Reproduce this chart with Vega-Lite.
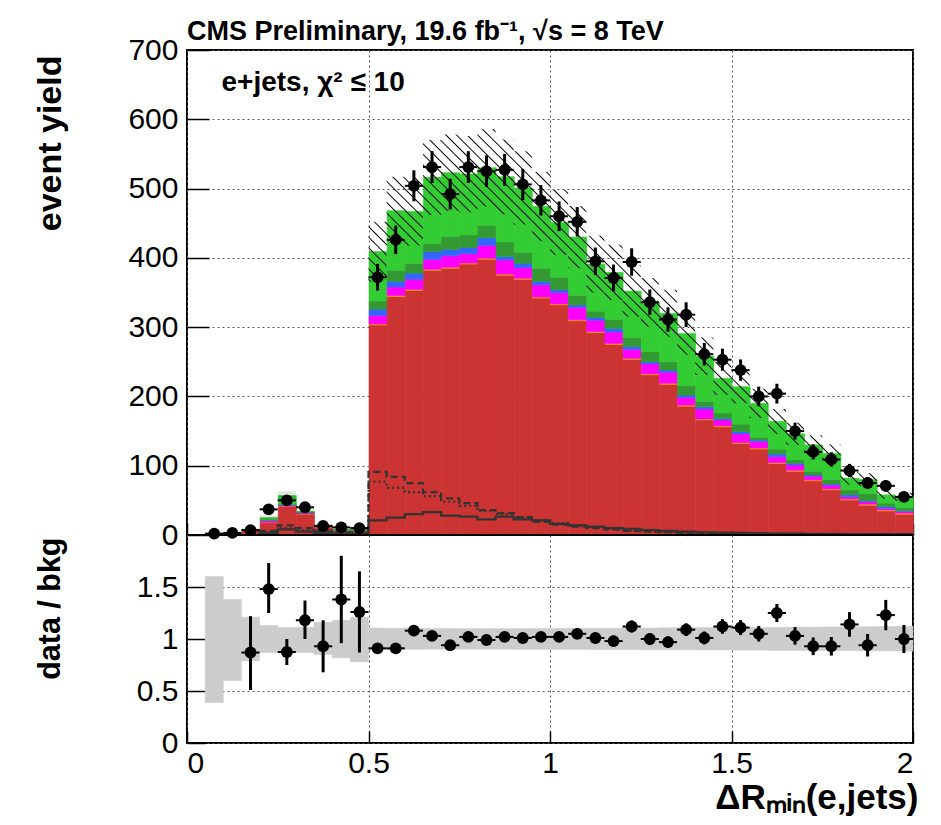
{
  "$schema": "https://vega.github.io/schema/vega-lite/v6.json",
  "autosize": {"type": "none"},
  "padding": {"left": 187, "top": 50, "right": 754, "bottom": 775},
  "background": "white",
  "config": {
    "font": "Liberation Sans",
    "view": {"stroke": "black", "strokeWidth": 2},
    "axis": {
      "domain": false,
      "grid": true,
      "gridColor": "#555555",
      "gridDash": [2, 3],
      "gridWidth": 1,
      "tickColor": "black",
      "tickWidth": 1.5,
      "labelFont": "Liberation Sans",
      "labelFontSize": 30,
      "labelColor": "black",
      "titleFont": "Liberation Sans",
      "titleColor": "black",
      "titleFontWeight": "bold"
    }
  },
  "datasets": {
    "hist": [
      {"lo":0.05,"hi":0.1,"c1red":1,"c2orange":0,"c3mag":0,"c4blue":0,"c5dkg":0,"c6grn":0,"ulo":0.4,"uhi":1.6},
      {"lo":0.1,"hi":0.15,"c1red":2,"c2orange":0,"c3mag":0,"c4blue":0,"c5dkg":0,"c6grn":0,"ulo":1.2,"uhi":2.8},
      {"lo":0.15,"hi":0.2,"c1red":7,"c2orange":0,"c3mag":0,"c4blue":0,"c5dkg":0,"c6grn":1,"ulo":6.3,"uhi":9.7},
      {"lo":0.2,"hi":0.25,"c1red":17.8,"c2orange":0.5,"c3mag":2.4,"c4blue":0.3,"c5dkg":1,"c6grn":3,"ulo":21.8,"uhi":28.3},
      {"lo":0.25,"hi":0.3,"c1red":41,"c2orange":0.5,"c3mag":1.5,"c4blue":0.5,"c5dkg":1,"c6grn":12.5,"ulo":49.6,"uhi":63.3},
      {"lo":0.3,"hi":0.35,"c1red":30,"c2orange":0.5,"c3mag":1.5,"c4blue":0.5,"c5dkg":0.5,"c6grn":1,"ulo":29.6,"uhi":37.7},
      {"lo":0.35,"hi":0.4,"c1red":12,"c2orange":0.3,"c3mag":0.5,"c4blue":0.5,"c5dkg":0.5,"c6grn":0.2,"ulo":11.9,"uhi":16.2},
      {"lo":0.4,"hi":0.45,"c1red":7,"c2orange":0,"c3mag":0,"c4blue":0,"c5dkg":0,"c6grn":1,"ulo":6.6,"uhi":9.4},
      {"lo":0.45,"hi":0.5,"c1red":7,"c2orange":0,"c3mag":0,"c4blue":0,"c5dkg":0,"c6grn":1,"ulo":6.2,"uhi":9.7},
      {"lo":0.5,"hi":0.55,"c1red":303,"c2orange":1.5,"c3mag":12.5,"c4blue":9,"c5dkg":12,"c6grn":71,"ulo":366,"uhi":452},
      {"lo":0.55,"hi":0.6,"c1red":344,"c2orange":1.5,"c3mag":12.5,"c4blue":8,"c5dkg":16,"c6grn":86,"ulo":419,"uhi":517},
      {"lo":0.6,"hi":0.65,"c1red":353,"c2orange":1.5,"c3mag":14.5,"c4blue":9,"c5dkg":14,"c6grn":75,"ulo":418,"uhi":516},
      {"lo":0.65,"hi":0.7,"c1red":382,"c2orange":1.5,"c3mag":14.5,"c4blue":11,"c5dkg":12,"c6grn":95,"ulo":462,"uhi":570},
      {"lo":0.7,"hi":0.75,"c1red":385,"c2orange":1.5,"c3mag":16.5,"c4blue":9,"c5dkg":19,"c6grn":92,"ulo":468,"uhi":578},
      {"lo":0.75,"hi":0.8,"c1red":391,"c2orange":1.5,"c3mag":13.5,"c4blue":9,"c5dkg":18,"c6grn":88,"ulo":466,"uhi":576},
      {"lo":0.8,"hi":0.85,"c1red":398,"c2orange":1.5,"c3mag":18.5,"c4blue":11,"c5dkg":18,"c6grn":83,"ulo":474,"uhi":586},
      {"lo":0.85,"hi":0.9,"c1red":375,"c2orange":1.5,"c3mag":20.5,"c4blue":5,"c5dkg":21,"c6grn":94,"ulo":463,"uhi":571},
      {"lo":0.9,"hi":0.95,"c1red":369,"c2orange":1.5,"c3mag":15.5,"c4blue":6,"c5dkg":16,"c6grn":93,"ulo":448,"uhi":554},
      {"lo":0.95,"hi":1.0,"c1red":342,"c2orange":1.5,"c3mag":17.5,"c4blue":5,"c5dkg":19,"c6grn":89,"ulo":424,"uhi":524},
      {"lo":1.0,"hi":1.05,"c1red":332,"c2orange":1.5,"c3mag":16.5,"c4blue":4,"c5dkg":18,"c6grn":79,"ulo":404,"uhi":498},
      {"lo":1.05,"hi":1.1,"c1red":309,"c2orange":1.5,"c3mag":18,"c4blue":3.5,"c5dkg":14,"c6grn":84,"ulo":385,"uhi":475},
      {"lo":1.1,"hi":1.15,"c1red":292,"c2orange":1.5,"c3mag":16.5,"c4blue":4,"c5dkg":9,"c6grn":68,"ulo":350,"uhi":432},
      {"lo":1.15,"hi":1.2,"c1red":275,"c2orange":1.5,"c3mag":16.5,"c4blue":5,"c5dkg":13,"c6grn":68,"ulo":339,"uhi":419},
      {"lo":1.2,"hi":1.25,"c1red":253.5,"c2orange":1.5,"c3mag":13,"c4blue":4,"c5dkg":13,"c6grn":67,"ulo":315,"uhi":389},
      {"lo":1.25,"hi":1.3,"c1red":231,"c2orange":1.5,"c3mag":14.5,"c4blue":3,"c5dkg":14.5,"c6grn":71.5,"ulo":301,"uhi":371},
      {"lo":1.3,"hi":1.35,"c1red":217.5,"c2orange":1.5,"c3mag":16,"c4blue":3,"c5dkg":12,"c6grn":70,"ulo":286,"uhi":354},
      {"lo":1.35,"hi":1.4,"c1red":186,"c2orange":1.5,"c3mag":11,"c4blue":3.5,"c5dkg":14,"c6grn":75,"ulo":260,"uhi":322},
      {"lo":1.4,"hi":1.45,"c1red":166,"c2orange":1.5,"c3mag":14.5,"c4blue":3,"c5dkg":8,"c6grn":65,"ulo":231,"uhi":285},
      {"lo":1.45,"hi":1.5,"c1red":156,"c2orange":1.5,"c3mag":8.5,"c4blue":2,"c5dkg":8,"c6grn":50,"ulo":202,"uhi":250},
      {"lo":1.5,"hi":1.55,"c1red":132,"c2orange":1.5,"c3mag":12.5,"c4blue":3,"c5dkg":11,"c6grn":54,"ulo":190,"uhi":238},
      {"lo":1.55,"hi":1.6,"c1red":124,"c2orange":1.5,"c3mag":9.5,"c4blue":2,"c5dkg":4,"c6grn":49,"ulo":169,"uhi":211},
      {"lo":1.6,"hi":1.65,"c1red":103,"c2orange":1.5,"c3mag":8.5,"c4blue":4,"c5dkg":7,"c6grn":40,"ulo":146,"uhi":182},
      {"lo":1.65,"hi":1.7,"c1red":92,"c2orange":1.5,"c3mag":7.5,"c4blue":2.5,"c5dkg":5.5,"c6grn":37,"ulo":130,"uhi":162},
      {"lo":1.7,"hi":1.75,"c1red":78,"c2orange":1.5,"c3mag":5.5,"c4blue":1.6,"c5dkg":5.4,"c6grn":38,"ulo":116,"uhi":144},
      {"lo":1.75,"hi":1.8,"c1red":65,"c2orange":1.5,"c3mag":5.5,"c4blue":1.6,"c5dkg":6.4,"c6grn":38,"ulo":105,"uhi":131},
      {"lo":1.8,"hi":1.85,"c1red":50.5,"c2orange":1.5,"c3mag":3,"c4blue":3,"c5dkg":7,"c6grn":17,"ulo":73,"uhi":91},
      {"lo":1.85,"hi":1.9,"c1red":43,"c2orange":1.5,"c3mag":3.5,"c4blue":1.5,"c5dkg":10.5,"c6grn":20,"ulo":71,"uhi":89},
      {"lo":1.9,"hi":1.95,"c1red":34.6,"c2orange":1.5,"c3mag":2.4,"c4blue":2.5,"c5dkg":5,"c6grn":12,"ulo":52,"uhi":64},
      {"lo":1.95,"hi":2.0,"c1red":30,"c2orange":1.5,"c3mag":2.2,"c4blue":1.3,"c5dkg":4.4,"c6grn":15.6,"ulo":49,"uhi":61}
    ],
    "unc": [
      {"x":0.5,"ulo":366,"uhi":452},{"x":0.55,"ulo":419,"uhi":517},{"x":0.6,"ulo":418,"uhi":516},{"x":0.65,"ulo":462,"uhi":570},
      {"x":0.7,"ulo":468,"uhi":578},{"x":0.75,"ulo":466,"uhi":576},{"x":0.8,"ulo":474,"uhi":586},{"x":0.85,"ulo":463,"uhi":571},
      {"x":0.9,"ulo":448,"uhi":554},{"x":0.95,"ulo":424,"uhi":524},{"x":1.0,"ulo":404,"uhi":498},{"x":1.05,"ulo":385,"uhi":475},
      {"x":1.1,"ulo":350,"uhi":432},{"x":1.15,"ulo":339,"uhi":419},{"x":1.2,"ulo":315,"uhi":389},{"x":1.25,"ulo":301,"uhi":371},
      {"x":1.3,"ulo":286,"uhi":354},{"x":1.35,"ulo":260,"uhi":322},{"x":1.4,"ulo":231,"uhi":285},{"x":1.45,"ulo":202,"uhi":250},
      {"x":1.5,"ulo":190,"uhi":238},{"x":1.55,"ulo":169,"uhi":211},{"x":1.6,"ulo":146,"uhi":182},{"x":1.65,"ulo":130,"uhi":162},
      {"x":1.7,"ulo":116,"uhi":144},{"x":1.75,"ulo":105,"uhi":131},{"x":1.8,"ulo":73,"uhi":91},{"x":1.85,"ulo":71,"uhi":89},
      {"x":1.9,"ulo":52,"uhi":64},{"x":1.95,"ulo":49,"uhi":61},{"x":2.0,"ulo":49,"uhi":61}
    ],
    "pts": [
      {"x":0.075,"lo":0.05,"hi":0.1,"n":2,"nlo":0.6,"nhi":3.4},
      {"x":0.125,"lo":0.1,"hi":0.15,"n":3,"nlo":1.3,"nhi":4.7},
      {"x":0.175,"lo":0.15,"hi":0.2,"n":7,"nlo":4.4,"nhi":9.6},
      {"x":0.225,"lo":0.2,"hi":0.25,"n":37,"nlo":30.9,"nhi":43.1},
      {"x":0.275,"lo":0.25,"hi":0.3,"n":50,"nlo":42.9,"nhi":57.1},
      {"x":0.325,"lo":0.3,"hi":0.35,"n":40,"nlo":33.7,"nhi":46.3},
      {"x":0.375,"lo":0.35,"hi":0.4,"n":13,"nlo":9.4,"nhi":16.6},
      {"x":0.425,"lo":0.4,"hi":0.45,"n":11,"nlo":7.7,"nhi":14.3},
      {"x":0.475,"lo":0.45,"hi":0.5,"n":10,"nlo":6.8,"nhi":13.2},
      {"x":0.525,"lo":0.5,"hi":0.55,"n":372,"nlo":352.7,"nhi":391.3},
      {"x":0.575,"lo":0.55,"hi":0.6,"n":426,"nlo":405.4,"nhi":446.6},
      {"x":0.625,"lo":0.6,"hi":0.65,"n":504,"nlo":481.6,"nhi":526.4},
      {"x":0.675,"lo":0.65,"hi":0.7,"n":531,"nlo":508,"nhi":554},
      {"x":0.725,"lo":0.7,"hi":0.75,"n":492,"nlo":469.8,"nhi":514.2},
      {"x":0.775,"lo":0.75,"hi":0.8,"n":531,"nlo":508,"nhi":554},
      {"x":0.825,"lo":0.8,"hi":0.85,"n":525,"nlo":502.1,"nhi":547.9},
      {"x":0.875,"lo":0.85,"hi":0.9,"n":527,"nlo":504,"nhi":550},
      {"x":0.925,"lo":0.9,"hi":0.95,"n":506,"nlo":483.5,"nhi":528.5},
      {"x":0.975,"lo":0.95,"hi":1.0,"n":483,"nlo":461,"nhi":505},
      {"x":1.025,"lo":1.0,"hi":1.05,"n":460,"nlo":438.6,"nhi":481.4},
      {"x":1.075,"lo":1.05,"hi":1.1,"n":452,"nlo":430.7,"nhi":473.3},
      {"x":1.125,"lo":1.1,"hi":1.15,"n":395,"nlo":375.1,"nhi":414.9},
      {"x":1.175,"lo":1.15,"hi":1.2,"n":371,"nlo":351.7,"nhi":390.3},
      {"x":1.225,"lo":1.2,"hi":1.25,"n":394,"nlo":374.2,"nhi":413.8},
      {"x":1.275,"lo":1.25,"hi":1.3,"n":336,"nlo":317.7,"nhi":354.3},
      {"x":1.325,"lo":1.3,"hi":1.35,"n":311,"nlo":293.4,"nhi":328.6},
      {"x":1.375,"lo":1.35,"hi":1.4,"n":318,"nlo":300.2,"nhi":335.8},
      {"x":1.425,"lo":1.4,"hi":1.45,"n":261,"nlo":244.8,"nhi":277.2},
      {"x":1.475,"lo":1.45,"hi":1.5,"n":253,"nlo":237.1,"nhi":268.9},
      {"x":1.525,"lo":1.5,"hi":1.55,"n":238,"nlo":222.6,"nhi":253.4},
      {"x":1.575,"lo":1.55,"hi":1.6,"n":200,"nlo":185.9,"nhi":214.1},
      {"x":1.625,"lo":1.6,"hi":1.65,"n":204,"nlo":189.7,"nhi":218.3},
      {"x":1.675,"lo":1.65,"hi":1.7,"n":150,"nlo":137.8,"nhi":162.2},
      {"x":1.725,"lo":1.7,"hi":1.75,"n":120,"nlo":109,"nhi":131},
      {"x":1.775,"lo":1.75,"hi":1.8,"n":109,"nlo":98.6,"nhi":119.4},
      {"x":1.825,"lo":1.8,"hi":1.85,"n":93,"nlo":83.4,"nhi":102.6},
      {"x":1.875,"lo":1.85,"hi":1.9,"n":75,"nlo":66.3,"nhi":83.7},
      {"x":1.925,"lo":1.9,"hi":1.95,"n":71,"nlo":62.6,"nhi":79.4},
      {"x":1.975,"lo":1.95,"hi":2.0,"n":55,"nlo":47.6,"nhi":62.4}
    ],
    "sig": [
      {"x":0.15,"s":"a","v":0},{"x":0.2,"s":"a","v":3},{"x":0.25,"s":"a","v":8},{"x":0.3,"s":"a","v":5},{"x":0.35,"s":"a","v":3},{"x":0.4,"s":"a","v":2},{"x":0.45,"s":"a","v":2},
      {"x":0.5,"s":"a","v":21},{"x":0.55,"s":"a","v":25},{"x":0.6,"s":"a","v":30},{"x":0.65,"s":"a","v":33},{"x":0.7,"s":"a","v":28},{"x":0.75,"s":"a","v":26.5},{"x":0.8,"s":"a","v":22.6},{"x":0.85,"s":"a","v":26.5},{"x":0.9,"s":"a","v":22.6},{"x":0.95,"s":"a","v":21},
      {"x":1.0,"s":"a","v":16},{"x":1.05,"s":"a","v":14},{"x":1.1,"s":"a","v":12},{"x":1.15,"s":"a","v":10},{"x":1.2,"s":"a","v":9},{"x":1.25,"s":"a","v":7},{"x":1.3,"s":"a","v":6},{"x":1.35,"s":"a","v":5},{"x":1.4,"s":"a","v":4},{"x":1.45,"s":"a","v":3.5},
      {"x":1.5,"s":"a","v":3},{"x":1.55,"s":"a","v":2.5},{"x":1.6,"s":"a","v":2},{"x":1.65,"s":"a","v":2},{"x":1.7,"s":"a","v":1.5},{"x":1.75,"s":"a","v":1.5},{"x":1.8,"s":"a","v":1},{"x":1.85,"s":"a","v":1},{"x":1.9,"s":"a","v":1},{"x":1.95,"s":"a","v":1},{"x":2.0,"s":"a","v":1},
      {"x":0.15,"s":"b","v":0},{"x":0.2,"s":"b","v":6},{"x":0.25,"s":"b","v":14},{"x":0.3,"s":"b","v":10},{"x":0.35,"s":"b","v":6},{"x":0.4,"s":"b","v":4},{"x":0.45,"s":"b","v":4},
      {"x":0.5,"s":"b","v":91},{"x":0.55,"s":"b","v":84},{"x":0.6,"s":"b","v":75},{"x":0.65,"s":"b","v":62},{"x":0.7,"s":"b","v":53},{"x":0.75,"s":"b","v":46},{"x":0.8,"s":"b","v":36},{"x":0.85,"s":"b","v":31.5},{"x":0.9,"s":"b","v":26},{"x":0.95,"s":"b","v":19},
      {"x":1.0,"s":"b","v":15},{"x":1.05,"s":"b","v":12},{"x":1.1,"s":"b","v":10},{"x":1.15,"s":"b","v":8},{"x":1.2,"s":"b","v":6},{"x":1.25,"s":"b","v":5},{"x":1.3,"s":"b","v":4},{"x":1.35,"s":"b","v":3},{"x":1.4,"s":"b","v":2.5},{"x":1.45,"s":"b","v":2},
      {"x":1.5,"s":"b","v":1.5},{"x":1.55,"s":"b","v":1.5},{"x":1.6,"s":"b","v":1.2},{"x":1.65,"s":"b","v":1},{"x":1.7,"s":"b","v":1},{"x":1.75,"s":"b","v":1},{"x":1.8,"s":"b","v":1},{"x":1.85,"s":"b","v":1},{"x":1.9,"s":"b","v":1},{"x":1.95,"s":"b","v":1},{"x":2.0,"s":"b","v":1},
      {"x":0.15,"s":"c","v":0},{"x":0.2,"s":"c","v":4},{"x":0.25,"s":"c","v":10},{"x":0.3,"s":"c","v":7},{"x":0.35,"s":"c","v":4},{"x":0.4,"s":"c","v":3},{"x":0.45,"s":"c","v":3},
      {"x":0.5,"s":"c","v":77},{"x":0.55,"s":"c","v":68},{"x":0.6,"s":"c","v":62},{"x":0.65,"s":"c","v":56},{"x":0.7,"s":"c","v":48},{"x":0.75,"s":"c","v":42},{"x":0.8,"s":"c","v":35},{"x":0.85,"s":"c","v":30},{"x":0.9,"s":"c","v":25},{"x":0.95,"s":"c","v":21},
      {"x":1.0,"s":"c","v":17},{"x":1.05,"s":"c","v":14},{"x":1.1,"s":"c","v":11},{"x":1.15,"s":"c","v":9},{"x":1.2,"s":"c","v":7},{"x":1.25,"s":"c","v":5.5},{"x":1.3,"s":"c","v":4.5},{"x":1.35,"s":"c","v":3.5},{"x":1.4,"s":"c","v":3},{"x":1.45,"s":"c","v":2.5},
      {"x":1.5,"s":"c","v":2},{"x":1.55,"s":"c","v":2},{"x":1.6,"s":"c","v":1.5},{"x":1.65,"s":"c","v":1.5},{"x":1.7,"s":"c","v":1},{"x":1.75,"s":"c","v":1},{"x":1.8,"s":"c","v":1},{"x":1.85,"s":"c","v":1},{"x":1.9,"s":"c","v":1},{"x":1.95,"s":"c","v":1},{"x":2.0,"s":"c","v":1}
    ],
    "ratio": [
      {"x":0.175,"lo":0.15,"hi":0.2,"r":0.87,"rlo":0.51,"rhi":1.22},
      {"x":0.225,"lo":0.2,"hi":0.25,"r":1.48,"rlo":1.25,"rhi":1.73},
      {"x":0.275,"lo":0.25,"hi":0.3,"r":0.875,"rlo":0.75,"rhi":1.0},
      {"x":0.325,"lo":0.3,"hi":0.35,"r":1.18,"rlo":1.0,"rhi":1.37},
      {"x":0.375,"lo":0.35,"hi":0.4,"r":0.93,"rlo":0.68,"rhi":1.18},
      {"x":0.425,"lo":0.4,"hi":0.45,"r":1.38,"rlo":0.96,"rhi":1.8},
      {"x":0.475,"lo":0.45,"hi":0.5,"r":1.26,"rlo":0.87,"rhi":1.65},
      {"x":0.525,"lo":0.5,"hi":0.55,"r":0.91,"rlo":0.863,"rhi":0.957},
      {"x":0.575,"lo":0.55,"hi":0.6,"r":0.91,"rlo":0.866,"rhi":0.954},
      {"x":0.625,"lo":0.6,"hi":0.65,"r":1.08,"rlo":1.032,"rhi":1.128},
      {"x":0.675,"lo":0.65,"hi":0.7,"r":1.03,"rlo":0.985,"rhi":1.075},
      {"x":0.725,"lo":0.7,"hi":0.75,"r":0.94,"rlo":0.898,"rhi":0.982},
      {"x":0.775,"lo":0.75,"hi":0.8,"r":1.02,"rlo":0.976,"rhi":1.064},
      {"x":0.825,"lo":0.8,"hi":0.85,"r":0.99,"rlo":0.947,"rhi":1.033},
      {"x":0.875,"lo":0.85,"hi":0.9,"r":1.02,"rlo":0.976,"rhi":1.064},
      {"x":0.925,"lo":0.9,"hi":0.95,"r":1.01,"rlo":0.965,"rhi":1.055},
      {"x":0.975,"lo":0.95,"hi":1.0,"r":1.02,"rlo":0.974,"rhi":1.066},
      {"x":1.025,"lo":1.0,"hi":1.05,"r":1.02,"rlo":0.972,"rhi":1.068},
      {"x":1.075,"lo":1.05,"hi":1.1,"r":1.05,"rlo":1.001,"rhi":1.099},
      {"x":1.125,"lo":1.1,"hi":1.15,"r":1.01,"rlo":0.959,"rhi":1.061},
      {"x":1.175,"lo":1.15,"hi":1.2,"r":0.98,"rlo":0.929,"rhi":1.031},
      {"x":1.225,"lo":1.2,"hi":1.25,"r":1.12,"rlo":1.063,"rhi":1.177},
      {"x":1.275,"lo":1.25,"hi":1.3,"r":1.0,"rlo":0.945,"rhi":1.055},
      {"x":1.325,"lo":1.3,"hi":1.35,"r":0.97,"rlo":0.915,"rhi":1.025},
      {"x":1.375,"lo":1.35,"hi":1.4,"r":1.09,"rlo":1.029,"rhi":1.151},
      {"x":1.425,"lo":1.4,"hi":1.45,"r":1.01,"rlo":0.948,"rhi":1.072},
      {"x":1.475,"lo":1.45,"hi":1.5,"r":1.12,"rlo":1.05,"rhi":1.19},
      {"x":1.525,"lo":1.5,"hi":1.55,"r":1.11,"rlo":1.038,"rhi":1.182},
      {"x":1.575,"lo":1.55,"hi":1.6,"r":1.05,"rlo":0.976,"rhi":1.124},
      {"x":1.625,"lo":1.6,"hi":1.65,"r":1.25,"rlo":1.163,"rhi":1.337},
      {"x":1.675,"lo":1.65,"hi":1.7,"r":1.03,"rlo":0.946,"rhi":1.114},
      {"x":1.725,"lo":1.7,"hi":1.75,"r":0.93,"rlo":0.845,"rhi":1.015},
      {"x":1.775,"lo":1.75,"hi":1.8,"r":0.93,"rlo":0.841,"rhi":1.019},
      {"x":1.825,"lo":1.8,"hi":1.85,"r":1.14,"rlo":1.022,"rhi":1.258},
      {"x":1.875,"lo":1.85,"hi":1.9,"r":0.94,"rlo":0.832,"rhi":1.048},
      {"x":1.925,"lo":1.9,"hi":1.95,"r":1.23,"rlo":1.084,"rhi":1.376},
      {"x":1.975,"lo":1.95,"hi":2.0,"r":1.0,"rlo":0.865,"rhi":1.135}
    ],
    "rband": [
      {"lo":0.05,"hi":0.1,"blo":0.39,"bhi":1.6},
      {"lo":0.1,"hi":0.15,"blo":0.6,"bhi":1.38},
      {"lo":0.15,"hi":0.2,"blo":0.79,"bhi":1.21},
      {"lo":0.2,"hi":0.25,"blo":0.87,"bhi":1.13},
      {"lo":0.25,"hi":0.3,"blo":0.87,"bhi":1.11},
      {"lo":0.3,"hi":0.35,"blo":0.87,"bhi":1.11},
      {"lo":0.35,"hi":0.4,"blo":0.85,"bhi":1.16},
      {"lo":0.4,"hi":0.45,"blo":0.82,"bhi":1.18},
      {"lo":0.45,"hi":0.5,"blo":0.78,"bhi":1.21},
      {"lo":0.5,"hi":0.55,"blo":0.9,"bhi":1.106},
      {"lo":0.55,"hi":0.6,"blo":0.9,"bhi":1.104},
      {"lo":0.6,"hi":0.65,"blo":0.9,"bhi":1.104},
      {"lo":0.65,"hi":0.7,"blo":0.902,"bhi":1.102},
      {"lo":0.7,"hi":0.75,"blo":0.902,"bhi":1.102},
      {"lo":0.75,"hi":0.8,"blo":0.902,"bhi":1.1},
      {"lo":0.8,"hi":0.85,"blo":0.902,"bhi":1.1},
      {"lo":0.85,"hi":0.9,"blo":0.902,"bhi":1.1},
      {"lo":0.9,"hi":0.95,"blo":0.9,"bhi":1.1},
      {"lo":0.95,"hi":1.0,"blo":0.9,"bhi":1.102},
      {"lo":1.0,"hi":1.05,"blo":0.9,"bhi":1.102},
      {"lo":1.05,"hi":1.1,"blo":0.9,"bhi":1.104},
      {"lo":1.1,"hi":1.15,"blo":0.898,"bhi":1.104},
      {"lo":1.15,"hi":1.2,"blo":0.898,"bhi":1.104},
      {"lo":1.2,"hi":1.25,"blo":0.898,"bhi":1.106},
      {"lo":1.25,"hi":1.3,"blo":0.896,"bhi":1.106},
      {"lo":1.3,"hi":1.35,"blo":0.896,"bhi":1.108},
      {"lo":1.35,"hi":1.4,"blo":0.896,"bhi":1.108},
      {"lo":1.4,"hi":1.45,"blo":0.894,"bhi":1.11},
      {"lo":1.45,"hi":1.5,"blo":0.894,"bhi":1.11},
      {"lo":1.5,"hi":1.55,"blo":0.892,"bhi":1.112},
      {"lo":1.55,"hi":1.6,"blo":0.892,"bhi":1.112},
      {"lo":1.6,"hi":1.65,"blo":0.89,"bhi":1.112},
      {"lo":1.65,"hi":1.7,"blo":0.89,"bhi":1.114},
      {"lo":1.7,"hi":1.75,"blo":0.89,"bhi":1.114},
      {"lo":1.75,"hi":1.8,"blo":0.888,"bhi":1.116},
      {"lo":1.8,"hi":1.85,"blo":0.888,"bhi":1.116},
      {"lo":1.85,"hi":1.9,"blo":0.886,"bhi":1.118},
      {"lo":1.9,"hi":1.95,"blo":0.886,"bhi":1.12},
      {"lo":1.95,"hi":2.0,"blo":0.884,"bhi":1.122}
    ]
  },
  "spacing": 0,
  "bounds": "flush",
  "vconcat": [
    {
      "width": 726,
      "height": 485,
      "title": {
        "text": "CMS Preliminary, 19.6 fb⁻¹, √s = 8 TeV",
        "anchor": "start",
        "frame": "group",
        "font": "Liberation Sans",
        "fontSize": 27,
        "fontWeight": "bold",
        "color": "black",
        "offset": -11
      },
      "layer": [
        {
          "data": {"name": "hist"},
          "transform": [{"fold": ["c1red", "c2orange", "c3mag", "c4blue", "c5dkg", "c6grn"], "as": ["comp", "v"]}],
          "mark": {"type": "bar", "strokeWidth": 0.6, "binSpacing": 0},
          "encoding": {
            "x": {"field": "lo", "type": "quantitative", "bin": {"binned": true, "step": 0.05},
                  "scale": {"domain": [0, 2], "nice": false, "zero": false},
                  "axis": {"values": [0, 0.5, 1, 1.5, 2], "labels": false, "title": null, "tickSize": -12}},
            "x2": {"field": "hi"},
            "y": {"field": "v", "type": "quantitative", "stack": "zero", "scale": {"domain": [0, 700], "nice": false},
                  "axis": {"values": [0, 100, 200, 300, 400, 500, 600, 700], "tickSize": -22, "labelPadding": 31,
                           "title": "event yield", "titleFontSize": 34, "titleAngle": -90, "titleAlign": "right",
                           "titleBaseline": "middle", "titleX": -137, "titleY": 5}},
            "color": {"field": "comp", "type": "nominal", "legend": null,
                      "scale": {"domain": ["c1red", "c2orange", "c3mag", "c4blue", "c5dkg", "c6grn"],
                                "range": ["#cc3333", "#ff9900", "#ff00ff", "#3366ff", "#339933", "#33cc33"]}},
            "stroke": {"field": "comp", "type": "nominal", "legend": null,
                      "scale": {"domain": ["c1red", "c2orange", "c3mag", "c4blue", "c5dkg", "c6grn"],
                                "range": ["#cc3333", "#ff9900", "#ff00ff", "#3366ff", "#339933", "#33cc33"]}},
            "order": {"field": "comp", "sort": "ascending"}
          }
        },
        {
          "data": {"name": "sig"},
          "mark": {"type": "line", "interpolate": "step-after", "color": "#333333", "strokeWidth": 2.2},
          "encoding": {
            "x": {"field": "x", "type": "quantitative"},
            "y": {"field": "v", "type": "quantitative"},
            "detail": {"field": "s"},
            "strokeDash": {"field": "s", "type": "nominal", "legend": null,
                           "scale": {"domain": ["a", "b", "c"], "range": [[1, 0], [7, 4], [2, 3]]}}
          }
        },
        {
          "data": {"name": "hist"},
          "transform": [{"filter": "datum.lo < 0.5"}],
          "mark": {"type": "bar", "color": "#000000", "fillOpacity": 0.1},
          "encoding": {
            "x": {"field": "lo", "type": "quantitative"},
            "x2": {"field": "hi"},
            "y": {"field": "ulo", "type": "quantitative"},
            "y2": {"field": "uhi"}
          }
        },
        {
          "data": {"name": "unc"},
          "mark": {
            "type": "area",
            "interpolate": "step-after",
            "fill": {
              "gradient": "linear", "x1": 0, "y1": 1, "x2": 1.15, "y2": 0.213,
              "stops": [
                {"offset":0.2285,"color":"rgba(0,0,0,0)"},{"offset":0.2300,"color":"#000000"},{"offset":0.2315,"color":"rgba(0,0,0,0)"},
                {"offset":0.2400,"color":"rgba(0,0,0,0)"},{"offset":0.2415,"color":"#000000"},{"offset":0.2430,"color":"rgba(0,0,0,0)"},
                {"offset":0.2515,"color":"rgba(0,0,0,0)"},{"offset":0.2530,"color":"#000000"},{"offset":0.2545,"color":"rgba(0,0,0,0)"},
                {"offset":0.2630,"color":"rgba(0,0,0,0)"},{"offset":0.2645,"color":"#000000"},{"offset":0.2660,"color":"rgba(0,0,0,0)"},
                {"offset":0.2745,"color":"rgba(0,0,0,0)"},{"offset":0.2760,"color":"#000000"},{"offset":0.2775,"color":"rgba(0,0,0,0)"},
                {"offset":0.2860,"color":"rgba(0,0,0,0)"},{"offset":0.2875,"color":"#000000"},{"offset":0.2890,"color":"rgba(0,0,0,0)"},
                {"offset":0.2975,"color":"rgba(0,0,0,0)"},{"offset":0.2990,"color":"#000000"},{"offset":0.3005,"color":"rgba(0,0,0,0)"},
                {"offset":0.3090,"color":"rgba(0,0,0,0)"},{"offset":0.3105,"color":"#000000"},{"offset":0.3120,"color":"rgba(0,0,0,0)"},
                {"offset":0.3205,"color":"rgba(0,0,0,0)"},{"offset":0.3220,"color":"#000000"},{"offset":0.3235,"color":"rgba(0,0,0,0)"},
                {"offset":0.3320,"color":"rgba(0,0,0,0)"},{"offset":0.3335,"color":"#000000"},{"offset":0.3350,"color":"rgba(0,0,0,0)"},
                {"offset":0.3435,"color":"rgba(0,0,0,0)"},{"offset":0.3450,"color":"#000000"},{"offset":0.3465,"color":"rgba(0,0,0,0)"},
                {"offset":0.3550,"color":"rgba(0,0,0,0)"},{"offset":0.3565,"color":"#000000"},{"offset":0.3580,"color":"rgba(0,0,0,0)"},
                {"offset":0.3665,"color":"rgba(0,0,0,0)"},{"offset":0.3680,"color":"#000000"},{"offset":0.3695,"color":"rgba(0,0,0,0)"},
                {"offset":0.3780,"color":"rgba(0,0,0,0)"},{"offset":0.3795,"color":"#000000"},{"offset":0.3810,"color":"rgba(0,0,0,0)"},
                {"offset":0.3895,"color":"rgba(0,0,0,0)"},{"offset":0.3910,"color":"#000000"},{"offset":0.3925,"color":"rgba(0,0,0,0)"},
                {"offset":0.4010,"color":"rgba(0,0,0,0)"},{"offset":0.4025,"color":"#000000"},{"offset":0.4040,"color":"rgba(0,0,0,0)"},
                {"offset":0.4125,"color":"rgba(0,0,0,0)"},{"offset":0.4140,"color":"#000000"},{"offset":0.4155,"color":"rgba(0,0,0,0)"},
                {"offset":0.4240,"color":"rgba(0,0,0,0)"},{"offset":0.4255,"color":"#000000"},{"offset":0.4270,"color":"rgba(0,0,0,0)"},
                {"offset":0.4355,"color":"rgba(0,0,0,0)"},{"offset":0.4370,"color":"#000000"},{"offset":0.4385,"color":"rgba(0,0,0,0)"},
                {"offset":0.4470,"color":"rgba(0,0,0,0)"},{"offset":0.4485,"color":"#000000"},{"offset":0.4500,"color":"rgba(0,0,0,0)"},
                {"offset":0.4585,"color":"rgba(0,0,0,0)"},{"offset":0.4600,"color":"#000000"},{"offset":0.4615,"color":"rgba(0,0,0,0)"},
                {"offset":0.4700,"color":"rgba(0,0,0,0)"},{"offset":0.4715,"color":"#000000"},{"offset":0.4730,"color":"rgba(0,0,0,0)"},
                {"offset":0.4815,"color":"rgba(0,0,0,0)"},{"offset":0.4830,"color":"#000000"},{"offset":0.4845,"color":"rgba(0,0,0,0)"},
                {"offset":0.4930,"color":"rgba(0,0,0,0)"},{"offset":0.4945,"color":"#000000"},{"offset":0.4960,"color":"rgba(0,0,0,0)"},
                {"offset":0.5045,"color":"rgba(0,0,0,0)"},{"offset":0.5060,"color":"#000000"},{"offset":0.5075,"color":"rgba(0,0,0,0)"},
                {"offset":0.5160,"color":"rgba(0,0,0,0)"},{"offset":0.5175,"color":"#000000"},{"offset":0.5190,"color":"rgba(0,0,0,0)"},
                {"offset":0.5275,"color":"rgba(0,0,0,0)"},{"offset":0.5290,"color":"#000000"},{"offset":0.5305,"color":"rgba(0,0,0,0)"},
                {"offset":0.5390,"color":"rgba(0,0,0,0)"},{"offset":0.5405,"color":"#000000"},{"offset":0.5420,"color":"rgba(0,0,0,0)"},
                {"offset":0.5505,"color":"rgba(0,0,0,0)"},{"offset":0.5520,"color":"#000000"},{"offset":0.5535,"color":"rgba(0,0,0,0)"},
                {"offset":0.5620,"color":"rgba(0,0,0,0)"},{"offset":0.5635,"color":"#000000"},{"offset":0.5650,"color":"rgba(0,0,0,0)"},
                {"offset":0.5735,"color":"rgba(0,0,0,0)"},{"offset":0.5750,"color":"#000000"},{"offset":0.5765,"color":"rgba(0,0,0,0)"},
                {"offset":0.5850,"color":"rgba(0,0,0,0)"},{"offset":0.5865,"color":"#000000"},{"offset":0.5880,"color":"rgba(0,0,0,0)"},
                {"offset":0.5965,"color":"rgba(0,0,0,0)"},{"offset":0.5980,"color":"#000000"},{"offset":0.5995,"color":"rgba(0,0,0,0)"},
                {"offset":0.6080,"color":"rgba(0,0,0,0)"},{"offset":0.6095,"color":"#000000"},{"offset":0.6110,"color":"rgba(0,0,0,0)"}
              ]
            }
          },
          "encoding": {
            "x": {"field": "x", "type": "quantitative"},
            "y": {"field": "ulo", "type": "quantitative"},
            "y2": {"field": "uhi"}
          }
        },
        {
          "data": {"name": "pts"},
          "mark": {"type": "rule", "color": "black", "strokeWidth": 3},
          "encoding": {
            "x": {"field": "x", "type": "quantitative"},
            "y": {"field": "nlo", "type": "quantitative"},
            "y2": {"field": "nhi"}
          }
        },
        {
          "data": {"name": "pts"},
          "mark": {"type": "rule", "color": "black", "strokeWidth": 2},
          "encoding": {
            "x": {"field": "lo", "type": "quantitative"},
            "x2": {"field": "hi"},
            "y": {"field": "n", "type": "quantitative"}
          }
        },
        {
          "data": {"name": "pts"},
          "mark": {"type": "circle", "color": "black", "opacity": 1, "size": 140},
          "encoding": {
            "x": {"field": "x", "type": "quantitative"},
            "y": {"field": "n", "type": "quantitative"}
          }
        },
        {
          "data": {"values": [{"t": "e+jets, χ² ≤ 10", "x": 0.095, "y": 653}]},
          "mark": {"type": "text", "align": "left", "baseline": "middle", "font": "Liberation Sans", "fontSize": 28, "fontWeight": "bold", "color": "black"},
          "encoding": {
            "x": {"field": "x", "type": "quantitative"},
            "y": {"field": "y", "type": "quantitative"},
            "text": {"field": "t"}
          }
        }
      ]
    },
    {
      "width": 726,
      "height": 208,
      "layer": [
        {
          "data": {"name": "rband"},
          "mark": {"type": "bar", "color": "#cccccc", "strokeWidth": 0.5, "stroke": "#cccccc"},
          "encoding": {
            "x": {"field": "lo", "type": "quantitative", "scale": {"domain": [0, 2], "nice": false, "zero": false},
                  "axis": {"values": [0, 0.5, 1, 1.5, 2], "tickSize": -12, "labelPadding": 17, "labelExpr": "'' + datum.value",
                           "title": "ΔRₘᵢₙ(e,jets)", "titleFontSize": 35, "titleAlign": "right",
                           "titleBaseline": "alphabetic", "titleX": 731, "titleY": 65, "titleAngle": 0}},
            "x2": {"field": "hi"},
            "y": {"field": "blo", "type": "quantitative", "scale": {"domain": [0, 2], "nice": false},
                  "axis": {"values": [0, 0.5, 1, 1.5], "tickSize": -18, "labelPadding": 27, "labelExpr": "'' + datum.value",
                           "title": "data / bkg", "titleFontSize": 30.5, "titleAngle": -90, "titleAlign": "right",
                           "titleBaseline": "middle", "titleX": -137, "titleY": 2}},
            "y2": {"field": "bhi"}
          }
        },
        {
          "data": {"name": "ratio"},
          "mark": {"type": "rule", "color": "black", "strokeWidth": 3},
          "encoding": {
            "x": {"field": "x", "type": "quantitative"},
            "y": {"field": "rlo", "type": "quantitative"},
            "y2": {"field": "rhi"}
          }
        },
        {
          "data": {"name": "ratio"},
          "mark": {"type": "rule", "color": "black", "strokeWidth": 2},
          "encoding": {
            "x": {"field": "lo", "type": "quantitative"},
            "x2": {"field": "hi"},
            "y": {"field": "r", "type": "quantitative"}
          }
        },
        {
          "data": {"name": "ratio"},
          "mark": {"type": "circle", "color": "black", "opacity": 1, "size": 140},
          "encoding": {
            "x": {"field": "x", "type": "quantitative"},
            "y": {"field": "r", "type": "quantitative"}
          }
        }
      ]
    }
  ]
}
